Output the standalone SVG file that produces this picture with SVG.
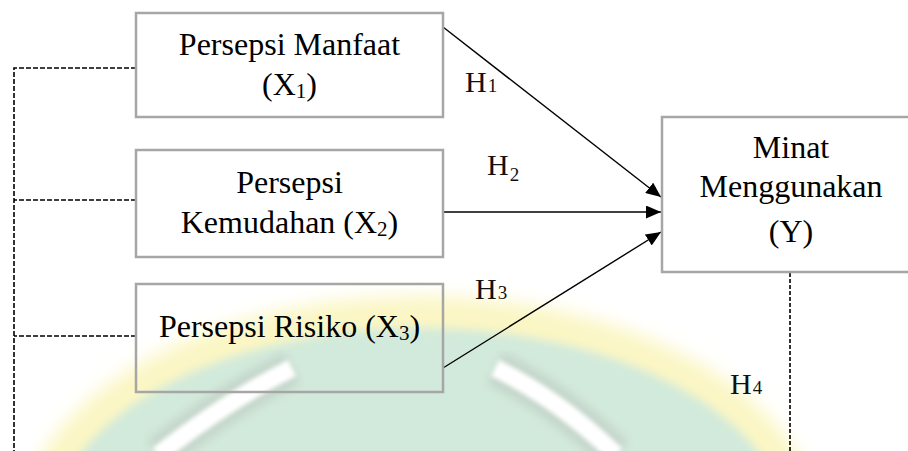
<svg xmlns="http://www.w3.org/2000/svg" width="908" height="451" viewBox="0 0 908 451">
<style>
.box{fill:none;stroke:#a6a6a6;stroke-width:2.5}
.t{font-family:"Liberation Serif","Times New Roman",serif;font-size:32px;fill:#000;text-anchor:middle}
.sub{font-size:21px}
.h{font-family:"Liberation Serif","Times New Roman",serif;font-size:30px;fill:#111}
.hs{font-size:19px}
.dash{fill:none;stroke:#000;stroke-width:1.6;stroke-dasharray:5 2}
.arr{fill:none;stroke:#000;stroke-width:1.4;marker-end:url(#ah)}
</style>
<defs>
<marker id="ah" markerUnits="userSpaceOnUse" markerWidth="16" markerHeight="13" refX="15" refY="6.5" orient="auto">
<path d="M0,0 L15,6.5 L0,13 z" fill="#000"/>
</marker>
<filter id="blur8" x="-20%" y="-20%" width="140%" height="140%"><feGaussianBlur stdDeviation="9"/></filter>
<filter id="blur4" x="-20%" y="-20%" width="140%" height="140%"><feGaussianBlur stdDeviation="5"/></filter>
<filter id="blur2" x="-20%" y="-20%" width="140%" height="140%"><feGaussianBlur stdDeviation="2"/></filter>
</defs>
<rect width="908" height="451" fill="#fff"/>
<g id="watermark">
<ellipse cx="420" cy="532" rx="400" ry="236" fill="#fbf6c4" filter="url(#blur8)"/>
<ellipse cx="420" cy="536" rx="370" ry="208" fill="#d2eadb" filter="url(#blur4)"/>
<path d="M292 368 Q 228 400 158 455 M495 368 Q 560 400 616 455" fill="none" stroke="#c4d6ca" stroke-width="36" filter="url(#blur4)"/>
<path d="M292 368 Q 228 400 158 455 M495 368 Q 560 400 616 455" fill="none" stroke="#ffffff" stroke-width="18" filter="url(#blur2)"/>
</g>
<g id="connectors">
<path class="dash" d="M136 68 H14 V451 M136 200 H14 M136 336 H14"/>
<path class="dash" d="M790 273 V451" style="stroke-dasharray:4 2"/>
<path class="arr" d="M443 27 L661 197"/>
<path class="arr" d="M443 212 L661 212"/>
<path class="arr" d="M443 368 L661 232"/>
<text class="h" x="465" y="92">H<tspan class="hs" dx="1">1</tspan></text>
<text class="h" x="487" y="175">H<tspan class="hs" dx="1" dy="6">2</tspan></text>
<text class="h" x="475" y="299">H<tspan class="hs" dx="1">3</tspan></text>
<text class="h" x="730" y="394">H<tspan class="hs" dx="1">4</tspan></text>
</g>
<g id="x1">
<rect class="box" x="136" y="13" width="307" height="104"/>
<text class="t" x="289.5" y="55">Persepsi Manfaat</text>
<text class="t" x="289.5" y="95">(X<tspan class="sub" dy="3">1</tspan><tspan dy="-3">)</tspan></text>
</g>
<g id="x2">
<rect class="box" x="136" y="150" width="307" height="107"/>
<text class="t" x="289.5" y="193">Persepsi</text>
<text class="t" x="289.5" y="233">Kemudahan (X<tspan class="sub" dy="3">2</tspan><tspan dy="-3">)</tspan></text>
</g>
<g id="x3">
<rect class="box" x="136" y="284" width="307" height="108"/>
<text class="t" x="289.5" y="337">Persepsi Risiko (X<tspan class="sub" dy="3">3</tspan><tspan dy="-3">)</tspan></text>
</g>
<g id="y">
<rect class="box" x="662" y="117" width="260" height="155"/>
<text class="t" x="791" y="158">Minat</text>
<text class="t" x="791" y="197">Menggunakan</text>
<text class="t" x="791" y="242">(Y)</text>
</g>
</svg>
